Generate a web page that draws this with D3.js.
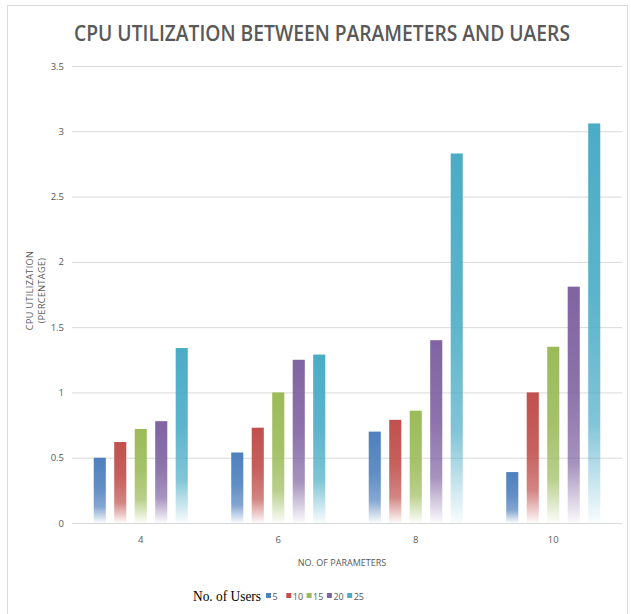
<!DOCTYPE html>
<html>
<head>
<meta charset="utf-8">
<script src="https://cdn.jsdelivr.net/npm/d3@7/dist/d3.min.js"></script>
<style>
  html, body { margin: 0; padding: 0; background: #fff; }
  svg { display: block; }
</style>
</head>
<body>
<svg id="chart" width="631" height="614"></svg>
<script>
// CPU utilization (percentage) per number of parameters, one series per user count
const parameters = ["4", "6", "8", "10"];
const userCounts = ["5", "10", "15", "20", "25"];
const users5  = [0.50, 0.54, 0.70, 0.39];
const users10 = [0.62, 0.73, 0.79, 1.00];
const users15 = [0.72, 1.00, 0.86, 1.35];
const users20 = [0.78, 1.25, 1.40, 1.81];
const users25 = [1.34, 1.29, 2.83, 3.06];
const yTicks = [0, 0.5, 1, 1.5, 2, 2.5, 3, 3.5];
const seriesColors = ["#4f81bd", "#c0504d", "#9bbb59", "#8064a2", "#4bacc6"];

const seriesValues = [users5, users10, users15, users20, users25];

const svg = d3.select("#chart");
const W = 631, H = 614;
const m = { left: 72, right: 9, top: 66, bottom: 91 };
const plotW = W - m.left - m.right;
const plotH = H - m.top - m.bottom;

// light outer frame
svg.append("rect")
  .attr("x", 7.5).attr("y", 5.5)
  .attr("width", 620).attr("height", 620)
  .attr("fill", "none").attr("stroke", "#d9d9d9").attr("stroke-width", 1);

// title
svg.append("text")
  .attr("x", 74).attr("y", 41)
  .attr("textLength", 496).attr("lengthAdjust", "spacingAndGlyphs")
  .style("font-family", "'Open Sans', 'Liberation Sans', sans-serif")
  .style("font-weight", "600")
  .style("font-size", "21px")
  .attr("fill", "#595959")
  .text("CPU UTILIZATION BETWEEN PARAMETERS AND UAERS");

const g = svg.append("g").attr("transform", `translate(${m.left},${m.top})`);

const y = d3.scaleLinear().domain([0, 3.5]).range([plotH, 0]);
const x0 = d3.scaleBand().domain(parameters).range([0, plotW]).padding(0);
const x1 = d3.scaleBand().domain(userCounts).range([0, x0.bandwidth()])
  .paddingInner(0.41).paddingOuter(1.06);

// gridlines + y labels
const yAxis = g.append("g")
  .call(d3.axisLeft(y).tickValues(yTicks).tickSize(-plotW).tickPadding(8)
    .tickFormat(d => String(d)));
yAxis.select(".domain").remove();
yAxis.selectAll(".tick line").attr("stroke", "#d9d9d9").attr("stroke-width", 1);
yAxis.selectAll(".tick text")
  .attr("fill", "#595959")
  .style("font-family", "'Open Sans', sans-serif")
  .style("font-size", "9.5px");

// vertical gradients, solid at the top and fading out toward the base
const defs = svg.append("defs");
seriesColors.forEach((c, i) => {
  const grad = defs.append("linearGradient")
    .attr("id", "fade" + i)
    .attr("x1", 0).attr("y1", 0).attr("x2", 0).attr("y2", 1);
  [[0, 1], [0.45, 0.9], [0.75, 0.7], [0.9, 0.3], [1, 0.03]].forEach(([o, a]) => {
    grad.append("stop").attr("offset", o).attr("stop-color", c).attr("stop-opacity", a);
  });
});

// bars
const groups = g.selectAll(".grp")
  .data(parameters)
  .join("g")
  .attr("class", "grp")
  .attr("transform", d => `translate(${x0(d)},0)`);

groups.selectAll("rect")
  .data((p, pi) => userCounts.map((u, si) => ({ u, si, v: seriesValues[si][pi] })))
  .join("rect")
  .attr("x", d => x1(d.u))
  .attr("width", x1.bandwidth())
  .attr("y", d => y(d.v))
  .attr("height", d => plotH - y(d.v))
  .attr("fill", d => `url(#fade${d.si})`);

// x axis labels
const xAxis = g.append("g")
  .attr("transform", `translate(0,${plotH})`)
  .call(d3.axisBottom(x0).tickSize(0).tickPadding(13));
xAxis.select(".domain").remove();
xAxis.selectAll(".tick text")
  .attr("fill", "#595959")
  .style("font-family", "'Open Sans', sans-serif")
  .style("font-size", "9.5px");

// axis titles
svg.append("text")
  .attr("x", 342).attr("y", 566)
  .attr("text-anchor", "middle")
  .attr("fill", "#595959")
  .style("font-family", "'Open Sans', sans-serif")
  .style("font-size", "9px")
  .text("NO. OF  PARAMETERS");

const yTitle = svg.append("text")
  .attr("transform", `translate(0,${m.top + plotH / 2 - 4}) rotate(-90)`)
  .attr("text-anchor", "middle")
  .attr("fill", "#595959")
  .style("font-family", "'Open Sans', sans-serif")
  .style("font-size", "9px")
  .style("letter-spacing", "0.4px");
yTitle.append("tspan").attr("x", 0).attr("y", 33).text("CPU UTILIZATION");
yTitle.append("tspan").attr("x", 0).attr("y", 45).text("(PERCENTAGE)");

// legend
const legend = svg.append("g").attr("transform", "translate(193,601)");
legend.append("text")
  .attr("x", 0).attr("y", 0)
  .attr("textLength", 68).attr("lengthAdjust", "spacingAndGlyphs")
  .attr("fill", "#000")
  .style("font-family", "'Liberation Serif', 'Times New Roman', serif")
  .style("font-size", "15px")
  .text("No. of Users");

const legendX = d3.scaleBand().domain(userCounts).range([73, 174.5]);
const items = legend.selectAll(".item")
  .data(userCounts)
  .join("g")
  .attr("class", "item")
  .attr("transform", d => `translate(${legendX(d)},0)`);
items.append("rect")
  .attr("x", 0).attr("y", -8)
  .attr("width", 5).attr("height", 5)
  .attr("fill", (d, i) => seriesColors[i]);
items.append("text")
  .attr("x", 6.5).attr("y", -1.5)
  .attr("fill", "#595959")
  .style("font-family", "'Open Sans', sans-serif")
  .style("font-size", "9px")
  .text(d => d);
</script>
</body>
</html>
